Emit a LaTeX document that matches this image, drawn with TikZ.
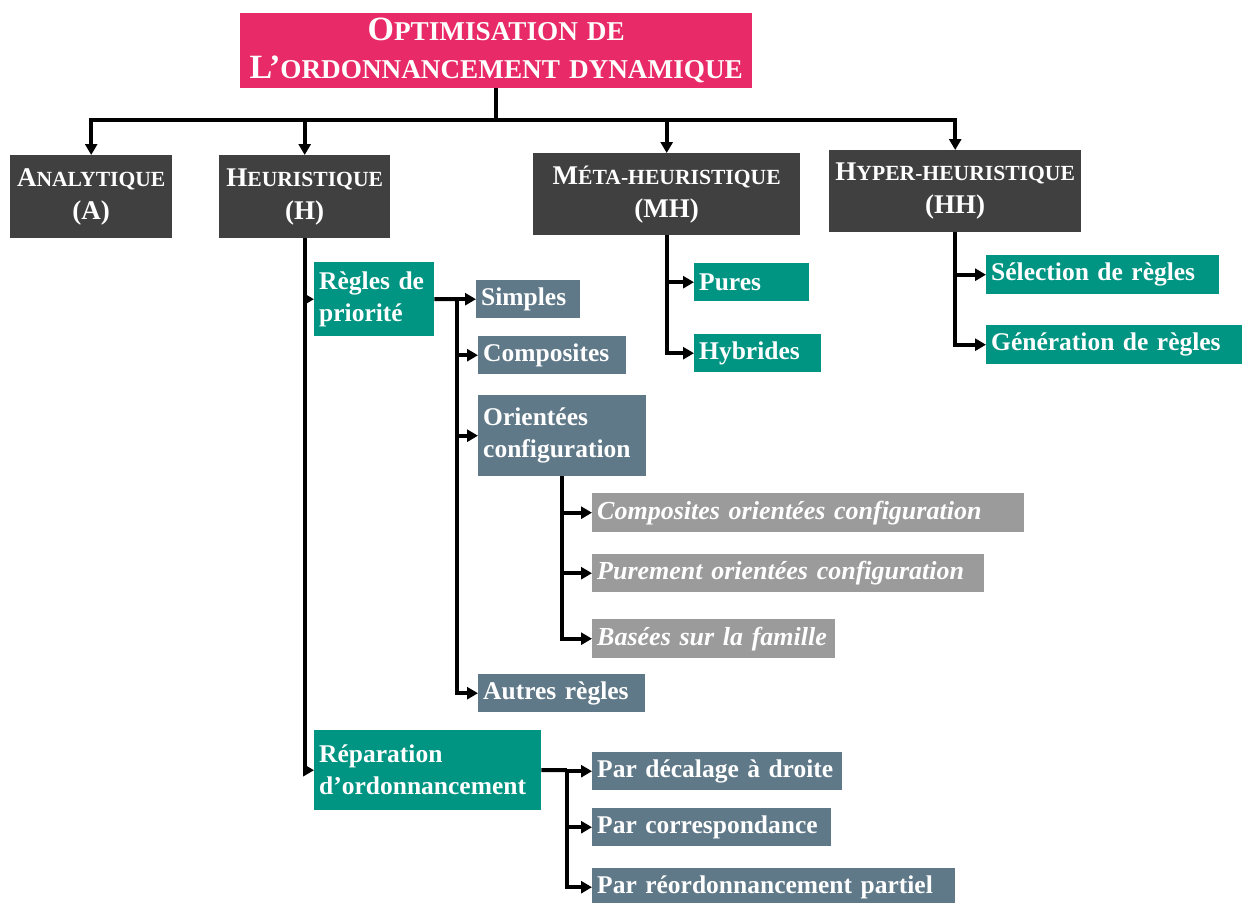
\documentclass[tikz,border=0pt]{standalone}
\usepackage{fontspec}
\setmainfont{Liberation Serif}
\usepackage{graphicx}
\usetikzlibrary{arrows.meta}
\definecolor{titlepink}{RGB}{232,42,104}
\definecolor{darkbox}{RGB}{64,64,64}
\definecolor{tealbox}{RGB}{0,148,130}
\definecolor{slatebox}{RGB}{95,121,137}
\definecolor{greybox}{RGB}{155,155,155}
\hyphenpenalty=10000
\newcommand{\smcp}[1]{\scalebox{0.8}{#1}}

\begin{document}
\begin{tikzpicture}[x=1pt, y=-1pt,
    box/.style={anchor=north west, text=white, inner xsep=5pt, inner ysep=0pt},
    titlebox/.style={box, fill=titlepink, align=center, font=\bfseries\fontsize{34}{38}\selectfont},
    headbox/.style={box, fill=darkbox, align=center, font=\bfseries\fontsize{27}{33}\selectfont},
    tealitem/.style={box, fill=tealbox, align=left, font=\bfseries\fontsize{25.5}{32}\selectfont},
    slateitem/.style={box, fill=slatebox, align=left, font=\bfseries\fontsize{25.5}{32}\selectfont},
    greyitem/.style={box, fill=greybox, align=left, font=\bfseries\itshape\fontsize{26}{32}\selectfont},
    arr/.style={line width=4pt, -{Triangle[length=11pt,width=12pt]}},
    line/.style={line width=4pt}]
    \useasboundingbox (0,0) rectangle (1246,902);

    % top levels
    \node[titlebox, text width=502pt, minimum height=75pt] (title) at (240,13)
        {O\smcp{PTIMISATION DE}\\L’\smcp{ORDONNANCEMENT DYNAMIQUE}};
    \node[headbox, text width=152pt, minimum height=83pt] (ana) at (10,155) {A\smcp{NALYTIQUE}\\(A)};
    \node[headbox, text width=161pt, minimum height=83pt] (heu) at (219,155) {H\smcp{EURISTIQUE}\\(H)};
    \node[headbox, text width=257pt, minimum height=82pt] (meta) at (533,153) {M\smcp{ÉTA-HEURISTIQUE}\\(MH)};
    \node[headbox, text width=242pt, minimum height=82pt] (hyper) at (829,150) {H\smcp{YPER-HEURISTIQUE}\\(HH)};

    % heuristique
    \node[tealitem, text width=110pt, minimum height=74pt] (regles) at (314,262) {Règles de\\priorité};
    \node[slateitem, text width=94pt, minimum height=38pt] (simples) at (476,280) {Simples};
    \node[slateitem, text width=138pt, minimum height=38pt] (compo) at (478,336) {Composites};
    \node[slateitem, text width=158pt, minimum height=81pt] (orient) at (478,395) {Orientées\\configuration};
    \node[greyitem, text width=422pt, minimum height=39pt] (compoconf) at (592,493) {Composites orientées configuration};
    \node[greyitem, text width=382pt, minimum height=38pt] (pureconf) at (592,554) {Purement orientées configuration};
    \node[greyitem, text width=233pt, minimum height=39pt] (famille) at (592,619) {Basées sur la famille};
    \node[slateitem, text width=157pt, minimum height=38pt] (autres) at (478,674) {Autres règles};
    \node[tealitem, text width=217pt, minimum height=80pt] (repar) at (314,730) {Réparation\\d’ordonnancement};
    \node[slateitem, text width=240pt, minimum height=38pt] (decal) at (592,752) {Par décalage à droite};
    \node[slateitem, text width=229pt, minimum height=38pt] (corresp) at (592,808) {Par correspondance};
    \node[slateitem, text width=353pt, minimum height=38pt] (reord) at (592,868) {Par réordonnancement partiel};

    % meta and hyper
    \node[tealitem, text width=105pt, minimum height=38pt] (pures) at (694,263) {Pures};
    \node[tealitem, text width=117pt, minimum height=38pt] (hybr) at (694,334) {Hybrides};
    \node[tealitem, text width=223pt, minimum height=39pt] (select) at (986,255) {Sélection de règles};
    \node[tealitem, text width=246pt, minimum height=39pt] (gener) at (986,325) {Génération de règles};

    % connectors
    \draw[line] (title.south) -- ++(0,32) coordinate (tj);
    \foreach \n in {ana,heu,meta,hyper}
      \draw[arr] (tj) -| (\n.north);
    \foreach \n in {regles,repar}
      \draw[arr] (heu.south) |- (\n.west);

    \coordinate (rj) at (457,299);
    \draw[line] (regles.east) -- (rj);
    \foreach \n in {simples,compo,orient,autres}
      \draw[arr] (rj) |- (\n.west);
    \foreach \n in {compoconf,pureconf,famille}
      \draw[arr] (orient.south) |- (\n.west);

    \coordinate (pj) at (567,770);
    \draw[line] (repar.east) -- (pj);
    \foreach \n in {decal,corresp,reord}
      \draw[arr] (pj) |- (\n.west);

    \foreach \n in {pures,hybr}
      \draw[arr] (meta.south) |- (\n.west);
    \foreach \n in {select,gener}
      \draw[arr] (hyper.south) |- (\n.west);
\end{tikzpicture}
\end{document}
